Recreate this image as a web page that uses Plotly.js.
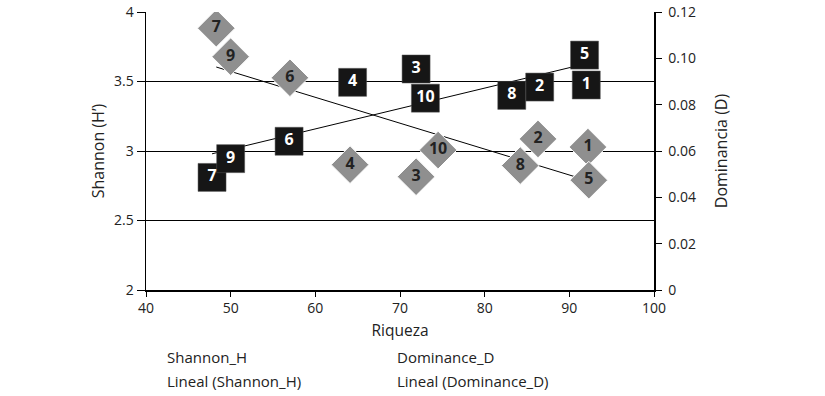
<!DOCTYPE html>
<html>
<head>
<meta charset="utf-8">
<script src="https://cdn.plot.ly/plotly-3.0.1.min.js"></script>
<style>html,body{margin:0;padding:0;background:#fff;}#chart{width:825px;height:396px;}</style>
</head>
<body>
<div id="chart"></div>
<script>
// Sample labels (numbers drawn inside markers)
const samples = ['1','2','3','4','5','6','7','8','9','10'];
// Richness (x) for Shannon markers and Shannon values (left axis)
const richnessShannon = [92.0, 86.5, 71.9, 64.4, 91.8, 56.9, 47.8, 83.2, 50.0, 73.0];
const shannonH = [3.475, 3.46, 3.59, 3.494, 3.69, 3.07, 2.81, 3.40, 2.945, 3.38];
// Richness (x) for Dominance markers and Dominance values (right axis)
const richnessDominance = [92.2, 86.3, 71.9, 64.1, 92.3, 57.0, 48.3, 84.2, 50.0, 74.5];
const dominanceD = [0.0617, 0.0652, 0.0489, 0.0541, 0.0474, 0.0916, 0.113, 0.0537, 0.1007, 0.0604];
// Tick labels
const xTicks = [40, 50, 60, 70, 80, 90, 100];
const leftTickVals = [2, 2.5, 3, 3.5, 4];
const leftTickText = ['2', '2.5', '3', '3.5', '4'];
const rightTickVals = [0, 0.02, 0.04, 0.06, 0.08, 0.10, 0.12];
const rightTickText = ['0', '0.02', '0.04', '0.06', '0.08', '0.10', '0.12'];
const legendLabels = ['Shannon_H', 'Lineal (Shannon_H)', 'Dominance_D', 'Lineal (Dominance_D)'];

// Linear least-squares trend line (as Excel's "Lineal" trendline)
function trend(xs, ys) {
  const n = xs.length;
  const mx = xs.reduce((a, b) => a + b, 0) / n;
  const my = ys.reduce((a, b) => a + b, 0) / n;
  let sxy = 0, sxx = 0;
  for (let i = 0; i < n; i++) { sxy += (xs[i] - mx) * (ys[i] - my); sxx += (xs[i] - mx) ** 2; }
  const b = sxy / sxx, a = my - b * mx;
  const x0 = Math.min(...xs), x1 = Math.max(...xs);
  return { x: [x0, x1], y: [a + b * x0, a + b * x1] };
}
const tS = trend(richnessShannon, shannonH);
const tD = trend(richnessDominance, dominanceD);

const FONT = 'Open Sans, Noto Sans, sans-serif';

const traces = [
  { x: tS.x, y: tS.y, mode: 'lines', line: { color: '#000', width: 1 }, yaxis: 'y', hoverinfo: 'skip', showlegend: false },
  { x: tD.x, y: tD.y, mode: 'lines', line: { color: '#000', width: 1 }, yaxis: 'y2', hoverinfo: 'skip', showlegend: false },
  {
    x: richnessShannon, y: shannonH, text: samples, mode: 'markers+text', yaxis: 'y',
    marker: { symbol: 'square', size: 28, color: '#161616', line: { color: '#555', width: 0.5 } },
    textposition: 'middle center',
    textfont: { family: FONT, size: 16, color: '#ffffff', weight: 'bold' },
    showlegend: false, hoverinfo: 'skip'
  },
  {
    x: richnessDominance, y: dominanceD, text: samples, mode: 'markers+text', yaxis: 'y2',
    marker: { symbol: 'diamond', size: 29, color: '#8f8f8f', line: { color: '#ffffff', width: 1 } },
    textposition: 'middle center',
    textfont: { family: FONT, size: 16, color: '#222222', weight: 'bold' },
    showlegend: false, hoverinfo: 'skip'
  }
];

const legendPos = [[0.0374, -0.241], [0.0374, -0.327], [0.490, -0.241], [0.490, -0.327]];
const annotations = legendLabels.map((t, i) => ({
  text: t, xref: 'paper', yref: 'paper', x: legendPos[i][0], y: legendPos[i][1],
  xanchor: 'left', yanchor: 'middle', showarrow: false,
  font: { family: FONT, size: 15, color: '#222' }
}));

const layout = {
  width: 825, height: 396,
  margin: { l: 146, r: 171, t: 12, b: 106 },
  paper_bgcolor: '#fff', plot_bgcolor: '#fff',
  font: { family: FONT, size: 14, color: '#222' },
  showlegend: false,
  xaxis: {
    range: [40, 100], tickvals: xTicks, ticktext: xTicks.map(String),
    showline: true, linecolor: '#000', linewidth: 1.5,
    ticks: 'outside', ticklen: 5, tickcolor: '#000', tickwidth: 1,
    showgrid: false, zeroline: false,
    title: { text: 'Riqueza', font: { size: 15.5 }, standoff: 9 }
  },
  yaxis: {
    range: [2, 4], tickvals: leftTickVals, ticktext: leftTickText,
    showline: true, linecolor: '#000', linewidth: 1.5,
    ticks: 'outside', ticklen: 8, tickcolor: '#000', tickwidth: 1,
    showgrid: true, gridcolor: '#000', gridwidth: 1, zeroline: false,
    title: { text: 'Shannon (H’)', font: { size: 16 }, standoff: 5 }
  },
  yaxis2: {
    range: [0, 0.12], tickvals: rightTickVals, ticktext: rightTickText,
    overlaying: 'y', side: 'right',
    showline: true, linecolor: '#000', linewidth: 1.5,
    ticks: 'outside', ticklen: 6, tickcolor: '#000', tickwidth: 1, ticklabelstandoff: 4,
    showgrid: false, zeroline: false,
    title: { text: 'Dominancia (D)', font: { size: 16 }, standoff: 21 }
  },
  annotations: annotations
};

Plotly.newPlot('chart', traces, layout, { displayModeBar: false, staticPlot: true });
</script>
</body>
</html>
